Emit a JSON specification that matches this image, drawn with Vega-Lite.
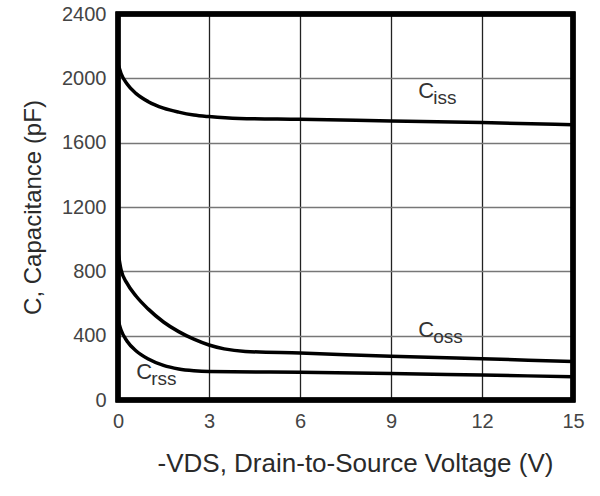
{
  "$schema": "https://vega.github.io/schema/vega-lite/v6.json",
  "width": 455,
  "height": 386,
  "autosize": {"type": "none"},
  "padding": {"left": 118, "top": 14, "right": 27, "bottom": 96},
  "background": "white",
  "config": {
    "font": "Liberation Sans",
    "view": {"stroke": null},
    "axis": {
      "labelFont": "Liberation Sans",
      "titleFont": "Liberation Sans",
      "labelColor": "#444",
      "titleColor": "#2a2a2a",
      "labelFontSize": 20,
      "titleFontSize": 24,
      "titleFontWeight": "normal",
      "ticks": false,
      "domain": false,
      "gridOpacity": 1,
      "gridWidth": 1.3
    }
  },
  "datasets": {
    "curves": [
      {"series": "Ciss", "v": 0, "c": 2090},
      {"series": "Ciss", "v": 0.1, "c": 2030},
      {"series": "Ciss", "v": 0.3, "c": 1965},
      {"series": "Ciss", "v": 0.6, "c": 1905},
      {"series": "Ciss", "v": 1, "c": 1855},
      {"series": "Ciss", "v": 1.5, "c": 1815},
      {"series": "Ciss", "v": 2, "c": 1790},
      {"series": "Ciss", "v": 2.5, "c": 1772},
      {"series": "Ciss", "v": 3, "c": 1762},
      {"series": "Ciss", "v": 4, "c": 1750},
      {"series": "Ciss", "v": 6, "c": 1745},
      {"series": "Ciss", "v": 9, "c": 1735},
      {"series": "Ciss", "v": 12, "c": 1725},
      {"series": "Ciss", "v": 15, "c": 1712},
      {"series": "Coss", "v": 0, "c": 920},
      {"series": "Coss", "v": 0.1, "c": 810},
      {"series": "Coss", "v": 0.3, "c": 725},
      {"series": "Coss", "v": 0.6, "c": 645},
      {"series": "Coss", "v": 1, "c": 565},
      {"series": "Coss", "v": 1.5, "c": 485},
      {"series": "Coss", "v": 2, "c": 425},
      {"series": "Coss", "v": 2.5, "c": 378},
      {"series": "Coss", "v": 3, "c": 342},
      {"series": "Coss", "v": 3.5, "c": 318},
      {"series": "Coss", "v": 4.2, "c": 302},
      {"series": "Coss", "v": 6, "c": 292},
      {"series": "Coss", "v": 9, "c": 272},
      {"series": "Coss", "v": 12, "c": 256},
      {"series": "Coss", "v": 15, "c": 240},
      {"series": "Crss", "v": 0, "c": 500},
      {"series": "Crss", "v": 0.1, "c": 435},
      {"series": "Crss", "v": 0.3, "c": 365},
      {"series": "Crss", "v": 0.6, "c": 305},
      {"series": "Crss", "v": 1, "c": 255},
      {"series": "Crss", "v": 1.5, "c": 215},
      {"series": "Crss", "v": 2, "c": 193},
      {"series": "Crss", "v": 2.5, "c": 182},
      {"series": "Crss", "v": 3, "c": 177},
      {"series": "Crss", "v": 6, "c": 172},
      {"series": "Crss", "v": 9, "c": 165},
      {"series": "Crss", "v": 12, "c": 155},
      {"series": "Crss", "v": 15, "c": 145}
    ],
    "labels": [
      {"main": "C", "sub": "iss", "v": 9.9, "c": 1880},
      {"main": "C", "sub": "oss", "v": 9.9, "c": 390},
      {"main": "C", "sub": "rss", "v": 0.6, "c": 130}
    ]
  },
  "layer": [
    {
      "data": {"name": "curves"},
      "mark": {"type": "line", "color": "black", "strokeWidth": 3.5, "interpolate": "monotone", "clip": true},
      "encoding": {
        "x": {
          "field": "v", "type": "quantitative",
          "scale": {"domain": [0, 15], "nice": false},
          "axis": {"values": [0, 3, 6, 9, 12, 15], "labelPadding": 11, "gridColor": "#222", "title": "-VDS, Drain-to-Source Voltage (V)", "titleFontSize": 26, "titleX": 237, "titlePadding": 19, "labelFlush": false}
        },
        "y": {
          "field": "c", "type": "quantitative",
          "scale": {"domain": [0, 2400], "nice": false},
          "axis": {"values": [0, 400, 800, 1200, 1600, 2000, 2400], "format": "d", "labelPadding": 12, "gridColor": "#777", "title": "C, Capacitance (pF)", "titlePadding": 16, "labelFlush": false}
        },
        "detail": {"field": "series"}
      }
    },
    {
      "data": {"name": "labels"},
      "mark": {"type": "rect", "fill": null, "fillOpacity": 0, "stroke": "black", "strokeWidth": 5, "strokeJoin": "miter"},
      "encoding": {
        "x": {"datum": 0, "type": "quantitative"},
        "x2": {"datum": 15},
        "y": {"datum": 0, "type": "quantitative"},
        "y2": {"datum": 2400}
      }
    },
    {
      "data": {"name": "labels"},
      "mark": {"type": "text", "font": "Liberation Sans", "fontSize": 22, "color": "#333", "align": "left", "baseline": "alphabetic"},
      "encoding": {
        "x": {"field": "v", "type": "quantitative"},
        "y": {"field": "c", "type": "quantitative"},
        "text": {"field": "main"}
      }
    },
    {
      "data": {"name": "labels"},
      "mark": {"type": "text", "font": "Liberation Sans", "fontSize": 19, "color": "#333", "align": "left", "baseline": "alphabetic", "dx": 15, "dy": 6},
      "encoding": {
        "x": {"field": "v", "type": "quantitative"},
        "y": {"field": "c", "type": "quantitative"},
        "text": {"field": "sub"}
      }
    }
  ]
}
